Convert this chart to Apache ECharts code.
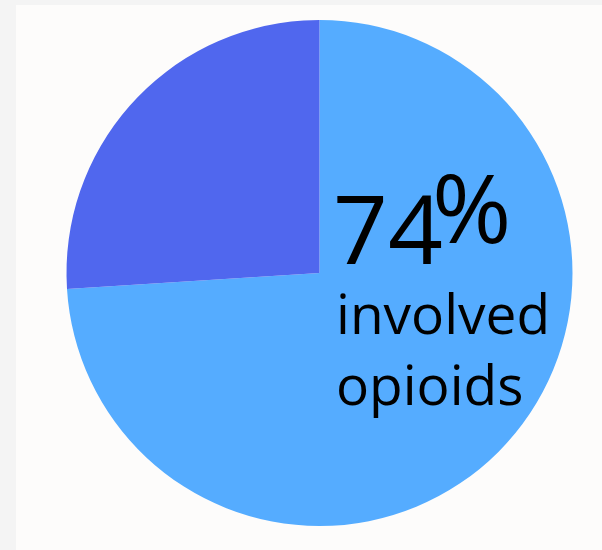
<!DOCTYPE html>
<html>
<head>
<meta charset="utf-8">
<script src="https://cdn.jsdelivr.net/npm/echarts@6/dist/echarts.min.js"></script>
<style>
  html, body { margin: 0; padding: 0; background: #f4f4f4; }
  #chart { width: 602px; height: 550px; }
</style>
</head>
<body>
<div id="chart"></div>
<script>
const categories = ['Involved opioids', 'Other']
const values = [74, 26]
const sliceColors = ['#55acff', '#5067ee']
const bigLabel = '74'
const captionLines = ['involved', 'opioids']

const chart = echarts.init(document.getElementById('chart'))

const textFont = '"Open Sans", "Noto Sans", sans-serif'

const option = {
  backgroundColor: '#f4f4f4',
  animation: false,
  graphic: [
    {
      type: 'rect',
      z: -10,
      shape: { x: 16, y: 5, width: 586, height: 545 },
      style: { fill: '#fdfcfb' },
    },
    {
      type: 'text',
      z: 10,
      left: 333,
      top: 189,
      style: { text: bigLabel, font: '400 96px ' + textFont, fill: '#000' },
    },
    {
      type: 'text',
      z: 10,
      left: 432,
      top: 168,
      style: { text: '%', font: '400 96px ' + textFont, fill: '#000' },
    },
    {
      type: 'text',
      z: 10,
      left: 336,
      top: 283,
      style: {
        text: captionLines.join('\n'),
        font: '400 55px ' + textFont,
        lineHeight: 71,
        fill: '#000',
      },
    },
  ],
  series: [
    {
      type: 'pie',
      center: [319.5, 273],
      radius: 253,
      startAngle: 90,
      clockwise: true,
      silent: true,
      label: { show: false },
      labelLine: { show: false },
      data: categories.map((name, i) => ({
        name,
        value: values[i],
        itemStyle: { color: sliceColors[i] },
      })),
    },
  ],
}

chart.setOption(option)
</script>
</body>
</html>
